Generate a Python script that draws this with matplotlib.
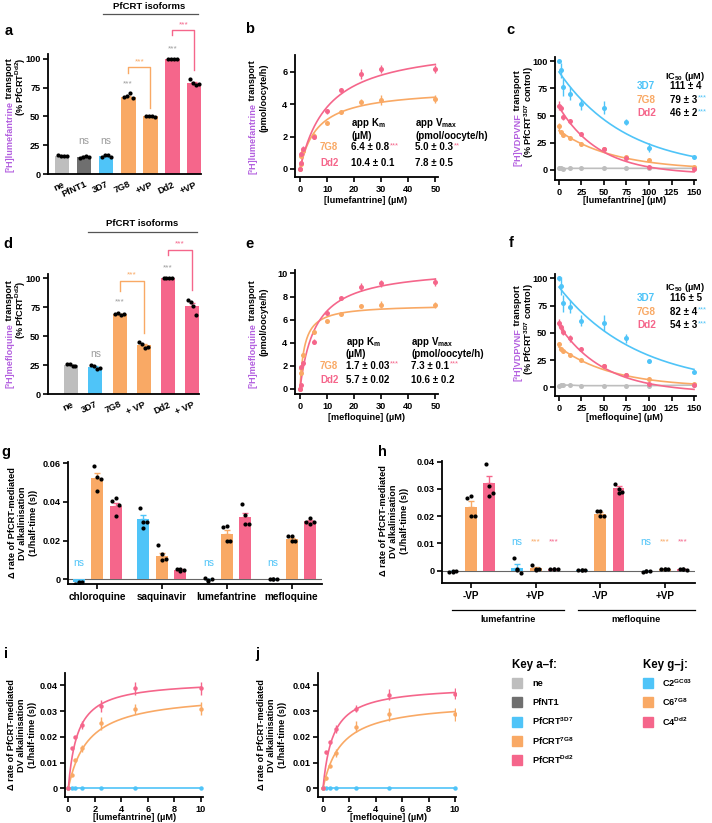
#! /usr/bin/env python
import numpy as np
import matplotlib
matplotlib.use('Agg')
import matplotlib.pyplot as plt
from matplotlib.patches import Rectangle
from matplotlib.ticker import FuncFormatter

plt.rcParams['font.family'] = ['Liberation Sans', 'DejaVu Sans']
plt.rcParams['font.weight'] = 'bold'
plt.rcParams['mathtext.fontset'] = 'custom'
plt.rcParams['mathtext.rm'] = 'Liberation Sans:bold'
plt.rcParams['mathtext.bf'] = 'Liberation Sans:bold'
plt.rcParams['mathtext.it'] = 'Liberation Sans:bold'
plt.rcParams['mathtext.default'] = 'bf'

LGRAY = '#bebebe'
DGRAY = '#6f6f6f'
BLUE = '#4fc4f8'
ORANGE = '#f9a965'
PINK = '#f5668b'
PURPLE = '#b35fdf'
SGRAY = '#9c9c9c'

# ---- a : [3H]lumefantrine transport, % of PfCRT Dd2
a_labels = ['ne', 'PfNT1', '3D7', '7G8', '+VP', 'Dd2', '+VP']
a_means = [16, 15, 15.5, 67, 50, 100, 79]
a_sem = [0.5, 0.4, 0.8, 1.0, 0.3, 0, 1.2]
a_dots = [[16.5, 16, 15.5, 16], [14.5, 15, 15.5, 15], [15, 16.5, 17, 15],
          [67, 68, 70, 66], [50, 50.5, 50, 49.5], [100, 100, 100, 100], [82, 79, 77, 78]]
a_colors = [LGRAY, DGRAY, BLUE, ORANGE, ORANGE, PINK, PINK]

# ---- d : [3H]mefloquine transport, % of PfCRT Dd2
d_labels = ['ne', '3D7', '7G8', '+ VP', 'Dd2', '+ VP']
d_means = [25, 23.5, 69, 42.5, 100, 76]
d_sem = [0.6, 0.8, 0.5, 1.3, 0, 2.8]
d_dots = [[26, 26, 24, 24], [25.5, 24, 22, 22.5], [69, 70.5, 68, 69.5],
          [45.5, 43, 40, 41], [100, 100, 100, 100], [81, 80, 76, 68]]
d_colors = [LGRAY, BLUE, ORANGE, ORANGE, PINK, PINK]

# ---- b : lumefantrine kinetics
lum_conc = [0, 0.25, 0.5, 1, 5, 10, 15, 22.5, 30, 50]
b_dd2 = [0, 0.35, 0.9, 1.25, 2.0, 3.55, 4.9, 5.85, 6.15, 6.2]
b_dd2_err = [0.05, 0.1, 0.15, 0.15, 0.15, 0.15, 0.05, 0.3, 0.25, 0.25]
b_7g8 = [0, 0.3, 0.8, 1.1, 2.05, 2.85, 3.5, 4.15, 4.25, 4.3]
b_7g8_err = [0.05, 0.05, 0.1, 0.1, 0.15, 0.05, 0.05, 0.15, 0.3, 0.25]
b_km = [6.4, 10.4]
b_km_err = [0.8, 0.1]
b_km_sig = ['***', '']
b_vmax = [5.0, 7.8]
b_vmax_err = [0.3, 0.5]
b_vmax_sig = ['**', '']

# ---- e : mefloquine kinetics
mef_conc = [0, 0.25, 0.5, 1, 5, 10, 15, 22.5, 30, 50]
e_dd2 = [0, 0.3, 1.9, 2.2, 4.1, 6.55, 7.9, 8.85, 9.15, 9.25]
e_dd2_err = [0.05, 0.1, 0.1, 0.15, 0.25, 0.15, 0.1, 0.35, 0.3, 0.35]
e_7g8 = [0, 1.4, 1.8, 2.9, 4.9, 5.85, 6.5, 7.15, 7.3, 7.25]
e_7g8_err = [0.05, 0.1, 0.1, 0.1, 0.1, 0.1, 0.05, 0.1, 0.3, 0.25]
e_km = [1.7, 5.7]
e_km_err = [0.03, 0.02]
e_km_sig = ['***', '']
e_vmax = [7.3, 10.6]
e_vmax_err = [0.1, 0.2]
e_vmax_sig = ['***', '']

# ---- c / f : [3H]VDPVNF transport vs drug
vd_conc = [0, 2.5, 5, 12.5, 25, 50, 75, 100, 150]
c_3d7 = [100, 91.5, 76, 70, 60.5, 57, 44, 20.5, 12]
c_3d7_err = [1, 7, 8, 6, 5, 6, 3, 4, 1]
c_7g8 = [40, 34.5, 32, 29, 24, 19.5, 11.5, 9, 3]
c_7g8_err = [3, 1.5, 1.5, 1.5, 2, 1, 1, 1, 1]
c_dd2 = [59, 57, 48.5, 44.5, 33, 19, 11, 3, 1]
c_dd2_err = [4, 3, 3, 2.5, 2, 1, 1, 1, 0.5]
c_ne = [1.5, 1.5, 1.2, 1.5, 1.5, 1.5, 1.5, 1.5, 1.5]
c_fit = [(90, 75, 0), (36, 62, 0), (62, 45, -4)]   # y0, tau, plateau
c_ic50 = [111, 79, 46]
c_ic50_err = [4, 3, 2]
c_sig = ['', '***', '***']

f_3d7 = [100, 93, 77, 74, 61, 59, 45, 24, 14]
f_3d7_err = [2, 8, 8, 6, 5, 7, 4, 2, 1]
f_7g8 = [40, 35, 33, 30, 25.5, 19.5, 11, 8, 3]
f_7g8_err = [2, 1.5, 1, 1.5, 1, 1, 1.5, 1, 1]
f_dd2 = [59, 55, 51, 45, 35, 20, 11, 3, 2]
f_dd2_err = [4, 3, 3, 3, 2, 1, 1, 1, 0.5]
f_ne = [1.5, 2, 2, 2, 1.5, 1.5, 1.5, 1.5, 2]
f_fit = [(92, 87, 0), (37, 60, 0), (62, 50, -5)]
f_ic50 = [116, 82, 54]
f_ic50_err = [5, 4, 3]
f_sig = ['', '***', '***']

iso_names = ['3D7', '7G8', 'Dd2']

# ---- g : DV alkalinisation by drug
g_drugs = ['chloroquine', 'saquinavir', 'lumefantrine', 'mefloquine']
g_gc03 = [-0.0015, 0.031, 0.0, 0.0003]
g_gc03_err = [0.0003, 0.0022, 0.0004, 0.0001]
g_gc03_dots = [[-0.0023, -0.0018, -0.0014, -0.0013], [0.0371, 0.0298, 0.0298, 0.0264],
               [0.0009, -0.0004, 0.0004, -0.0009], [0.0004, 0.0004, 0.0004, 0.0004]]
g_7g8 = [0.0525, 0.012, 0.0232, 0.0209]
g_7g8_err = [0.0025, 0.0017, 0.0022, 0.0007]
g_7g8_dots = [[0.0586, 0.0529, 0.052, 0.0457], [0.0175, 0.0129, 0.0105, 0.0102],
              [0.0271, 0.0277, 0.02, 0.02], [0.0223, 0.0223, 0.02, 0.02]]
g_dd2 = [0.0377, 0.0048, 0.0321, 0.0302]
g_dd2_err = [0.0019, 0.0003, 0.0024, 0.0007]
g_dd2_dots = [[0.0404, 0.0418, 0.0382, 0.0329], [0.0052, 0.0052, 0.0048, 0.0041],
              [0.0388, 0.033, 0.0286, 0.0286], [0.0298, 0.0318, 0.0298, 0.0286]]

# ---- h : DV alkalinisation -/+ VP
h_groups = ['-VP', '+VP', '-VP', '+VP']
h_drugs = ['lumefantrine', 'mefloquine']
h_gc03 = [-0.0002, 0.0012, 0.0003, -0.0001]
h_gc03_err = [0.0002, 0.0012, 0.0001, 0.0001]
h_gc03_dots = [[-0.0006, -0.0003, 0.0001, 0.0], [0.0047, 0.0006, -0.0009, 0.0004],
               [0.0003, 0.0003, 0.0003, 0.0003], [-0.0005, 0.0001, 0.0001, 0.0001]]
h_7g8 = [0.0235, 0.0009, 0.0208, 0.0005]
h_7g8_err = [0.002, 0.0004, 0.0006, 0.0001]
h_7g8_dots = [[0.0266, 0.0275, 0.02, 0.02], [0.002, 0.0007, 0.0006, 0.0004],
              [0.022, 0.022, 0.02, 0.02], [0.0005, 0.0006, 0.0005, 0.0006]]
h_dd2 = [0.032, 0.0006, 0.0303, 0.0005]
h_dd2_err = [0.0027, 0.0001, 0.0007, 0.0001]
h_dd2_dots = [[0.039, 0.031, 0.0285, 0.0275], [0.0006, 0.0007, 0.0005, 0.0006],
              [0.0316, 0.0301, 0.0289, 0.0286], [0.0005, 0.0006, 0.0004, 0.0006]]

# ---- i / j : alkalinisation kinetics
ij_conc = [0, 0.25, 0.5, 1, 2.5, 5, 10]
i_dd2 = [0, 0.0155, 0.0199, 0.0245, 0.032, 0.0388, 0.0388]
i_dd2_err = [0, 0.0005, 0.0005, 0.0015, 0.0022, 0.0025, 0.0025]
i_7g8 = [0, 0.0052, 0.0108, 0.0155, 0.0253, 0.0308, 0.031]
i_7g8_err = [0, 0.0005, 0.0005, 0.0015, 0.0025, 0.002, 0.0025]
i_gc03 = [0, 0, 0, 0, 0, 0, 0]
i_fit = [(0.037, 1.5), (0.042, 0.7)]   # Vmax, Km for 7G8, Dd2
j_dd2 = [0, 0.014, 0.0178, 0.023, 0.031, 0.0364, 0.0368]
j_dd2_err = [0, 0.0005, 0.0005, 0.0015, 0.0015, 0.002, 0.002]
j_7g8 = [0, 0.0039, 0.0087, 0.0136, 0.024, 0.0288, 0.0288]
j_7g8_err = [0, 0.0005, 0.0005, 0.0015, 0.002, 0.0025, 0.0025]
j_gc03 = [0, 0, 0, 0, 0, 0, 0]
j_fit = [(0.034, 1.4), (0.040, 0.75)]

key_af = ['ne', 'PfNT1', 'PfCRT$^{3D7}$', 'PfCRT$^{7G8}$', 'PfCRT$^{Dd2}$']
key_af_col = [LGRAY, DGRAY, BLUE, ORANGE, PINK]
key_gj = ['C2$^{GC03}$', 'C6$^{7G8}$', 'C4$^{Dd2}$']
key_gj_col = [BLUE, ORANGE, PINK]

W, H = 712, 823
FS = 6.6
fig = plt.figure(figsize=(W / 100, H / 100), dpi=100)

# overlay axes in pixel coords for free text
bg = fig.add_axes([0, 0, 1, 1])
bg.set_xlim(0, W)
bg.set_ylim(H, 0)
bg.axis('off')
bg.set_zorder(10)


def panel(l, t, r, b):
    ax = fig.add_axes([l / W, 1 - b / H, (r - l) / W, (b - t) / H])
    ax.patch.set_visible(False)
    ax.spines['top'].set_visible(False)
    ax.spines['right'].set_visible(False)
    ax.spines['left'].set_linewidth(1.3)
    ax.spines['bottom'].set_linewidth(1.3)
    ax.tick_params(width=1.2, length=3.5, labelsize=FS, pad=2)
    return ax


def ylab_color(x, ytop, colored, rest):
    t = bg.text(x, ytop, rest, rotation=90, ha='center', va='top', fontsize=FS)
    bg.annotate(colored, xy=(0.5, 0), xycoords=t, rotation=90, ha='center',
                va='top', fontsize=FS, color=PURPLE)


def ylab(x, ytop, s):
    bg.text(x, ytop, s, rotation=90, ha='center', va='top', fontsize=FS)


def rich(x, y, s, col, stars, scol, size=7):
    t = bg.text(x, y, s, color=col, fontsize=size, ha='left', va='center')
    if stars:
        bg.annotate(stars, xy=(1, 0.5), xycoords=t, xytext=(0.3, 1.0),
                    textcoords='offset points', ha='left', va='center',
                    fontsize=size - 1.5, color=scol, fontweight='normal')
    return t


def letter(x, y, s):
    bg.text(x, y, s, fontsize=10.5, ha='center', va='center')


dot_off = np.array([-0.2, -0.07, 0.07, 0.2])


def bar_panel(ax, labels, means, sem, dots, colors, width):
    x = np.arange(len(labels))
    ax.bar(x, means, width, color=colors, zorder=2)
    for i in x:
        ax.errorbar(x[i], means[i], yerr=[[0], [sem[i]]], fmt='none', ecolor=colors[i],
                    elinewidth=1, capsize=2.5, capthick=1, zorder=3)
        ax.scatter(x[i] + dot_off[:len(dots[i])] * width / 0.66, dots[i], s=9, color='k',
                   zorder=4, linewidths=0, clip_on=False)
    ax.set_ylim(0, 104)
    ax.set_yticks([0, 25, 50, 75, 100])
    ax.set_xticks(x)
    ax.set_xticklabels(labels, rotation=25, ha='right', rotation_mode='anchor', fontsize=FS)
    ax.tick_params(axis='x', length=0, pad=4)


def sig(ax, x, y, s, col, size=6):
    ax.text(x, y, s, color=col, ha='center', va='center', fontsize=size, fontweight='normal')


def bracket(ax, x1, y1, x2, y2, top, col, ystar):
    ax.plot([x1, x1, x2, x2], [y1, top, top, y2], color=col, lw=1, clip_on=False)
    sig(ax, (x1 + x2) / 2, ystar, '***', col)


# ---------------- panel a
ax = panel(48, 54, 201, 174.3)
bar_panel(ax, a_labels, a_means, a_sem, a_dots, a_colors, 0.66)
ax.set_xlim(-0.64, 6.3)
sig(ax, 1, 29, 'ns', SGRAY, 7.5)
sig(ax, 2, 29, 'ns', SGRAY, 7.5)
sig(ax, 3, 78, '***', SGRAY)
sig(ax, 5, 108, '***', SGRAY)
bracket(ax, 3, 88, 4, 57, 93, ORANGE, 97)
bracket(ax, 5, 120, 6, 90, 125, PINK, 129.5)
bg.text(149, 6, 'PfCRT isoforms', ha='center', va='center', fontsize=6.8)
bg.plot([103, 198], [14, 14], color='#555555', lw=0.9)
ylab_color(10, 58, '[³H]lumefantrine', ' transport')
ylab(21, 57, '(% PfCRT$^{Dd2}$)')
letter(9, 31, 'a')

# ---------------- panel d
ax = panel(48, 273.7, 199, 394.3)
bar_panel(ax, d_labels, d_means, d_sem, d_dots, d_colors, 0.58)
ax.set_xlim(-0.96, 5.29)
sig(ax, 1, 34.5, 'ns', SGRAY, 7.5)
sig(ax, 2, 80, '***', SGRAY)
sig(ax, 4, 109, '***', SGRAY)
bracket(ax, 2, 89, 3, 53, 97.7, ORANGE, 103)
bracket(ax, 4, 120, 5, 90, 124.4, PINK, 130)
bg.text(142, 223, 'PfCRT isoforms', ha='center', va='center', fontsize=6.8)
bg.plot([88, 197], [232, 232], color='#555555', lw=0.9)
ylab_color(10, 280, '[³H]mefloquine', ' transport')
ylab(21, 280, '(% PfCRT$^{Dd2}$)')
letter(8, 244, 'd')


# ---------------- kinetics helpers
def mm_panel(ax, conc, s7, e7, sd, ed, vmax, km, xmax):
    xx = np.linspace(0, xmax, 300)
    for y, e, col, v, k in [(s7, e7, ORANGE, vmax[0], km[0]), (sd, ed, PINK, vmax[1], km[1])]:
        ax.plot(xx, v * xx / (k + xx), color=col, lw=1.2, zorder=2)
        ax.errorbar(conc, y, yerr=e, fmt='o', ms=3.6, color=col, ecolor=col, elinewidth=1,
                    capsize=2.5, capthick=1, zorder=3, clip_on=False, mew=0)


def table(x0, xk, xv, y0, dy, km, kme, ksig, vm, vme, vsig, star_col):
    bg.text(xk, y0, 'app K$_m$', fontsize=7, ha='left', va='center')
    bg.text(xk, y0 + 12.5, '(µM)', fontsize=7, ha='left', va='center')
    bg.text(xv, y0, 'app V$_{max}$', fontsize=7, ha='left', va='center')
    bg.text(xv, y0 + 12.5, '(pmol/oocyte/h)', fontsize=7, ha='left', va='center')
    for i, (nm, col) in enumerate([('7G8', ORANGE), ('Dd2', PINK)]):
        y = y0 + 24 + dy * i
        bg.text(x0, y, nm, color=col, fontsize=7, ha='left', va='center')
        rich(xk, y, f'{km[i]} ± {kme[i]}', 'k', ksig[i], star_col)
        rich(xv, y, f'{vm[i]} ± {vme[i]}', 'k', vsig[i], star_col)


# ---------------- panel b
ax = panel(295, 55, 438, 177)
mm_panel(ax, lum_conc, b_7g8, b_7g8_err, b_dd2, b_dd2_err, b_vmax, b_km, 50)
ax.set_xlim(-1.85, 51)
ax.set_ylim(-0.5, 7.04)
ax.set_xticks([0, 10, 20, 30, 40, 50])
ax.set_yticks([0, 2, 4, 6])
table(320, 351, 415, 123, 16, b_km, b_km_err, b_km_sig, b_vmax, b_vmax_err, b_vmax_sig, PINK)
ylab_color(252.5, 60, '[³H]lumefantrine', ' transport')
ylab(264, 63, '(pmol/oocyte/h)')
bg.text(366, 200, '[lumefantrine] (µM)', ha='center', va='center', fontsize=FS)
letter(250, 29, 'b')

# ---------------- panel e
ax = panel(295, 270, 438, 394)
mm_panel(ax, mef_conc, e_7g8, e_7g8_err, e_dd2, e_dd2_err, e_vmax, e_km, 50)
ax.set_xlim(-1.85, 51)
ax.set_ylim(-0.45, 10.3)
ax.set_xticks([0, 10, 20, 30, 40, 50])
ax.set_yticks([0, 2, 4, 6, 8, 10])
table(320, 346, 411, 341.5, 14, e_km, e_km_err, e_km_sig, e_vmax, e_vmax_err, e_vmax_sig, PINK)
ylab_color(252.5, 280, '[³H]mefloquine', ' transport')
ylab(264, 288, '(pmol/oocyte/h)')
bg.text(366, 417, '[mefloquine] (µM)', ha='center', va='center', fontsize=FS)
letter(250, 244, 'e')


# ---------------- panels c / f
def ic_panel(ax, s3, e3, s7, e7, sd, ed, sne, fits):
    xx = np.linspace(0, 150, 300)
    ax.plot(vd_conc, sne, '-o', color=LGRAY, ms=3.6, lw=1.2, mew=0, zorder=2)
    for y, e, col, (y0, tau, c) in [(s3, e3, BLUE, fits[0]), (s7, e7, ORANGE, fits[1]),
                                     (sd, ed, PINK, fits[2])]:
        ax.plot(xx, y0 * np.exp(-xx / tau) + c, color=col, lw=1.2, zorder=2)
        ax.errorbar(vd_conc, y, yerr=e, fmt='o', ms=3.6, color=col, ecolor=col, elinewidth=1,
                    capsize=2.5, capthick=1, zorder=3, clip_on=False, mew=0)
    ax.set_xlim(-4.4, 152.2)
    ax.set_xticks([0, 25, 50, 75, 100, 125, 150])
    ax.set_yticks([0, 25, 50, 75, 100])


def ic_table(y0, vals, errs, sigs):
    bg.text(665, y0, 'IC$_{50}$ (µM)', fontsize=6.6, ha='left', va='center')
    for i, (nm, col) in enumerate(zip(iso_names, [BLUE, ORANGE, PINK])):
        y = y0 + 10 + 13.5 * i
        bg.text(637, y, nm, color=col, fontsize=7.2, ha='left', va='center')
        rich(670, y, f'{vals[i]} ± {errs[i]}', 'k', sigs[i], BLUE, 7)


ax = panel(555, 57, 696, 180)
ic_panel(ax, c_3d7, c_3d7_err, c_7g8, c_7g8_err, c_dd2, c_dd2_err, c_ne, c_fit)
ax.set_ylim(-9.2, 103.7)
ic_table(76, c_ic50, c_ic50_err, c_sig)
ylab_color(518, 70, '[³H]VDPVNF', ' transport')
ylab(529.5, 66, '(% PfCRT$^{3D7}$ control)')
bg.text(625, 200, '[lumefantrine] (µM)', ha='center', va='center', fontsize=FS)
letter(510, 30, 'c')

ax = panel(555, 274, 696, 396)
ic_panel(ax, f_3d7, f_3d7_err, f_7g8, f_7g8_err, f_dd2, f_dd2_err, f_ne, f_fit)
ax.set_ylim(-8, 104)
ic_table(288, f_ic50, f_ic50_err, f_sig)
ylab_color(518, 285, '[³H]VDPVNF', ' transport')
ylab(529.5, 283, '(% PfCRT$^{3D7}$ control)')
bg.text(625, 417, '[mefloquine] (µM)', ha='center', va='center', fontsize=FS)
letter(511, 243, 'f')

# ---------------- panels g / h
ALK = 'Δ rate of PfCRT-mediated\nDV alkalinisation\n(1/half-time (s))'
fmt2 = FuncFormatter(lambda v, p: '0' if abs(v) < 1e-9 else f'{v:.2f}')
boff = [-0.285, 0.0, 0.285]
jit = np.array([-0.055, 0.0, 0.055, 0.0])


def group_bars(ax, series):
    x = np.arange(4)
    for k, (m, e, dots, col) in enumerate(series):
        xs = x + boff[k]
        ax.bar(xs, m, 0.185, color=col, zorder=2)
        ax.errorbar(xs, m, yerr=[np.zeros(4), e], fmt='none', ecolor=col, elinewidth=1,
                    capsize=2.5, capthick=1, zorder=3)
        for i in range(4):
            ax.scatter(xs[i] + jit, dots[i], s=9, color='k', linewidths=0, zorder=4)
    ax.axhline(0, color='#666666', lw=0.8, zorder=1)
    ax.set_xlim(-0.45, 3.47)
    ax.set_xticks(x)
    ax.yaxis.set_major_formatter(fmt2)


ax = panel(68, 462, 322, 584)
group_bars(ax, [(g_gc03, g_gc03_err, g_gc03_dots, BLUE), (g_7g8, g_7g8_err, g_7g8_dots, ORANGE),
                (g_dd2, g_dd2_err, g_dd2_dots, PINK)])
ax.set_ylim(-0.0024, 0.0606)
ax.set_yticks([0, 0.02, 0.04, 0.06])
ax.set_xticklabels(g_drugs, fontsize=7.2)
for gx in [0, 2, 3]:
    sig(ax, gx + boff[0], 0.0082, 'ns', BLUE, 7.5)
bg.text(23, 523, ALK, rotation=90, ha='center', va='center', multialignment='center',
        fontsize=FS, linespacing=1.25)
letter(6, 452, 'g')

ax = panel(442, 461, 695, 583)
group_bars(ax, [(h_gc03, h_gc03_err, h_gc03_dots, BLUE), (h_7g8, h_7g8_err, h_7g8_dots, ORANGE),
                (h_dd2, h_dd2_err, h_dd2_dots, PINK)])
ax.set_ylim(-0.00446, 0.0402)
ax.set_yticks([0, 0.01, 0.02, 0.03, 0.04])
ax.set_xticklabels(h_groups, fontsize=7.2)
for gx in [1, 3]:
    sig(ax, gx + boff[0], 0.0105, 'ns', BLUE, 7.5)
    sig(ax, gx + boff[1], 0.0106, '***', ORANGE)
    sig(ax, gx + boff[2], 0.0106, '***', PINK)
for (x1, x2), nm in zip([(452, 564), (578, 695)], h_drugs):
    bg.plot([x1, x2], [610, 610], color='k', lw=0.9)
    bg.text((x1 + x2) / 2, 619.5, nm, ha='center', va='center', fontsize=FS)
bg.text(394, 521, ALK, rotation=90, ha='center', va='center', multialignment='center',
        fontsize=FS, linespacing=1.25)
letter(382, 452, 'h')


# ---------------- panels i / j
def alk_kin(ax, s7, e7, sd, ed, sgc, fits):
    xx = np.linspace(0, 10, 300)
    ax.plot(ij_conc, sgc, '-o', color=BLUE, ms=3.2, lw=1.2, mew=0, zorder=3, clip_on=False)
    for y, e, col, (v, k) in [(s7, e7, ORANGE, fits[0]), (sd, ed, PINK, fits[1])]:
        ax.plot(xx, v * xx / (k + xx), color=col, lw=1.2, zorder=2)
        ax.errorbar(ij_conc, y, yerr=e, fmt='o', ms=3.2, color=col, ecolor=col, elinewidth=1,
                    capsize=2.5, capthick=1, zorder=3, mew=0)
    ax.set_ylim(-0.0034, 0.0448)
    ax.set_xticks([0, 2, 4, 6, 8, 10])
    ax.set_yticks([0, 0.01, 0.02, 0.03, 0.04])
    ax.yaxis.set_major_formatter(fmt2)


ax = panel(65, 673, 203, 797)
alk_kin(ax, i_7g8, i_7g8_err, i_dd2, i_dd2_err, i_gc03, i_fit)
ax.set_xlim(-0.25, 10.15)
bg.text(22, 735, ALK, rotation=90, ha='center', va='center', multialignment='center',
        fontsize=FS, linespacing=1.25)
bg.text(135, 818, '[lumefantrine] (µM)', ha='center', va='center', fontsize=FS)
letter(6, 654, 'i')

ax = panel(318, 673, 456, 797)
alk_kin(ax, j_7g8, j_7g8_err, j_dd2, j_dd2_err, j_gc03, j_fit)
ax.set_xlim(-0.38, 10.08)
bg.text(272, 735, ALK, rotation=90, ha='center', va='center', multialignment='center',
        fontsize=FS, linespacing=1.25)
bg.text(388, 818, '[mefloquine] (µM)', ha='center', va='center', fontsize=FS)
letter(257, 654, 'j')

# ---------------- keys
bg.text(512, 665, 'Key a–f:', fontsize=8.3, ha='left', va='center')
for i, (lb, col) in enumerate(zip(key_af, key_af_col)):
    y = 683 + 19.3 * i
    bg.add_patch(Rectangle((512, y - 5), 10, 10, color=col))
    bg.text(532, y, lb, fontsize=FS, ha='left', va='center')
bg.text(643, 665, 'Key g–j:', fontsize=8.3, ha='left', va='center')
for i, (lb, col) in enumerate(zip(key_gj, key_gj_col)):
    y = 683 + 19.3 * i
    bg.add_patch(Rectangle((643, y - 5), 10, 10, color=col))
    bg.text(662, y, lb, fontsize=FS, ha='left', va='center')

fig.savefig('out.png', dpi=100)
